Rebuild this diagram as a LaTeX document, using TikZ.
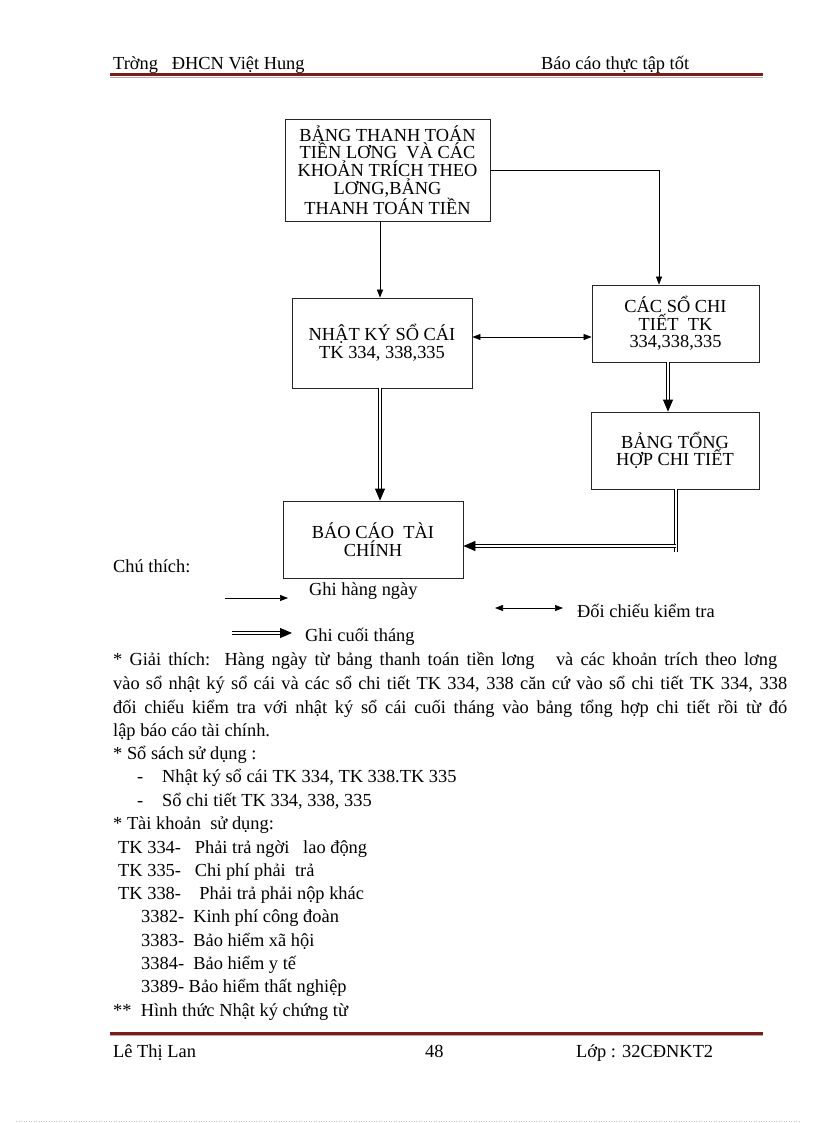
\documentclass[tikz,border=0pt]{standalone}
\usepackage{fontspec}
\setmainfont{Liberation Serif}
\usetikzlibrary{arrows.meta,calc}
\definecolor{rulered}{HTML}{7A1C1C}
\definecolor{rulegray}{HTML}{B8A8A8}
\begin{document}
\begin{tikzpicture}[x=1pt,y=-1pt,
  boxn/.style={draw=black!85, line width=0.8pt, align=center, inner sep=0pt,
    font=\fontsize{18.4}{17.7}\selectfont},
  txt/.style={anchor=base west, inner sep=0pt, font=\fontsize{18.4}{22}\selectfont},
  sarr/.style={-{Triangle[length=8pt,width=6pt]}, line width=0.7pt},
  larr/.style={{Triangle[length=8pt,width=6pt]}-{Triangle[length=8pt,width=6pt]}, line width=0.7pt},
  darr/.style={double, double distance=1.6pt, line width=0.8pt, -{Triangle[length=12pt,width=10pt]}},
  dline/.style={double, double distance=1.6pt, line width=0.8pt},
  redrule/.style={rulered, line width=3pt},
  grayrule/.style={rulegray, line width=0.8pt}]
\useasboundingbox (0,0) rectangle (816,1123);
\fill[white] (0,0) rectangle (816,1123);

% header
\node[txt] (h1) at (113,70) {Trờng\ \ \ ĐHCN Việt Hung};
\node[txt] (h2) at (541,70) {Báo cáo thực tập tốt};
\coordinate (hr1) at (110,74.5);
\coordinate (hr2) at (763,74.5);
\draw[redrule] (hr1) -- (hr2);
\draw[grayrule] ($(hr1)+(0,2.6)$) -- ($(hr2)+(0,2.6)$);

% boxes
\node[boxn, minimum width=205pt, minimum height=102pt] (b1) at (387.5,170)
  {BẢNG THANH TOÁN\\TIỀN LƠNG \ VÀ CÁC\\KHOẢN TRÍCH THEO\\LƠNG,BẢNG\\THANH TOÁN TIỀN};
\node[boxn, minimum width=180pt, minimum height=90pt] (b2) at (382,343)
  {NHẬT KÝ SỔ CÁI\\TK 334, 338,335};
\node[boxn, minimum width=167pt, minimum height=77pt] (b3) at (675.5,323.5)
  {CÁC SỔ CHI\\TIẾT \ TK\\334,338,335};
\node[boxn, minimum width=168pt, minimum height=77pt] (b5) at (675,450.5)
  {BẢNG TỔNG\\HỢP CHI TIẾT};
\node[boxn, minimum width=180pt, minimum height=77pt] (b4) at (373,539.5)
  {BÁO CÁO \ TÀI\\CHÍNH};

% helper coordinates
\coordinate (k1) at (659,0);
\coordinate (k2) at (380,0);
\coordinate (k3) at (0,337);
\coordinate (k5) at (668,0);
\coordinate (k6) at (676,552);
\coordinate (k7) at (0,546);

% connectors
\draw[sarr] (b1.east) -| (b3.north -| k1);
\draw[sarr] (b1.south -| k2) -- (b2.north -| k2);
\draw[larr] (b2.east |- k3) -- (b3.west |- k3);
\draw[darr] (b2.south -| k2) -- (b4.north -| k2);
\draw[darr] (b3.south -| k5) -- (b5.north -| k5);
\draw[dline] (b5.south -| k6) -- (k6);
\draw[darr] (k6 |- k7) -- (b4.east |- k7);

% legend
\node[txt] (ct) at (113,572) {Chú thích:};
\coordinate (l1a) at (225,598);
\coordinate (l1b) at (288,598);
\draw[sarr] (l1a) -- (l1b);
\node[txt] (lt1) at (309,595) {Ghi hàng ngày};
\coordinate (l2a) at (495,608);
\coordinate (l2b) at (563,608);
\draw[larr] (l2a) -- (l2b);
\node[txt] (lt2) at (577,617) {Đối chiếu kiểm tra};
\coordinate (l3a) at (232,633);
\coordinate (l3b) at (292,633);
\draw[darr] (l3a) -- (l3b);
\node[txt] (lt3) at (305,641) {Ghi cuối tháng};

% body text
\node[txt] (t1) at (113,665) {\makebox[664pt][s]{* Giải thích:\ \ Hàng ngày từ bảng thanh toán tiền lơng \ \ và các khoản trích theo lơng}};
\node[txt] (t2) at (113,689) {\makebox[674pt][s]{vào sổ nhật ký sổ cái và các sổ chi tiết TK 334, 338 căn cứ vào sổ chi tiết TK 334, 338}};
\node[txt] (t3) at (113,713) {\makebox[674pt][s]{đối chiếu kiểm tra với nhật ký sổ cái cuối tháng vào bảng tổng hợp chi tiết rồi từ đó}};
\node[txt] (t4) at (113,736) {lập báo cáo tài chính.};
\node[txt] (t5) at (113,759) {* Sổ sách sử dụng :};
\node[txt] (t6a) at (137,782) {-};
\node[txt] (t6) at (162,782) {Nhật ký sổ cái TK 334, TK 338.TK 335};
\node[txt] (t7a) at (137,806) {-};
\node[txt] (t7) at (162,806) {Sổ chi tiết TK 334, 338, 335};
\node[txt] (t8) at (113,829) {* Tài khoản\ \ sử dụng:};
\node[txt] (t9) at (118,853) {TK 334-\ \ \ Phải trả ngời \ \ lao động};
\node[txt] (t10) at (118,876) {TK 335-\ \ \ Chi phí phải \ trả};
\node[txt] (t11) at (118,899) {TK 338-\ \ \ \ Phải trả phải nộp khác};
\node[txt] (t12) at (141,922) {3382-\ \ Kinh phí công đoàn};
\node[txt] (t13) at (141,946) {3383-\ \ Bảo hiểm xã hội};
\node[txt] (t14) at (141,969) {3384-\ \ Bảo hiểm y tế};
\node[txt] (t15) at (141,992) {3389- Bảo hiểm thất nghiệp};
\node[txt] (t16) at (113,1016) {**\ \ Hình thức Nhật ký chứng từ};

% footer
\coordinate (fr1) at (110,1033);
\coordinate (fr2) at (763,1033);
\draw[redrule] (fr1) -- (fr2);
\draw[grayrule] ($(fr1)+(0,2.6)$) -- ($(fr2)+(0,2.6)$);
\node[txt] (f1) at (113,1057) {Lê Thị Lan};
\node[txt] (f2) at (425,1057) {48};
\node[txt] (f3) at (576,1057) {Lớp : 32CĐNKT2};

% faint page border
\coordinate (pb1) at (16,1121);
\coordinate (pb2) at (800,1121);
\draw[black!20, dotted, line width=0.5pt] (pb1) -- (pb2);
\end{tikzpicture}
\end{document}
